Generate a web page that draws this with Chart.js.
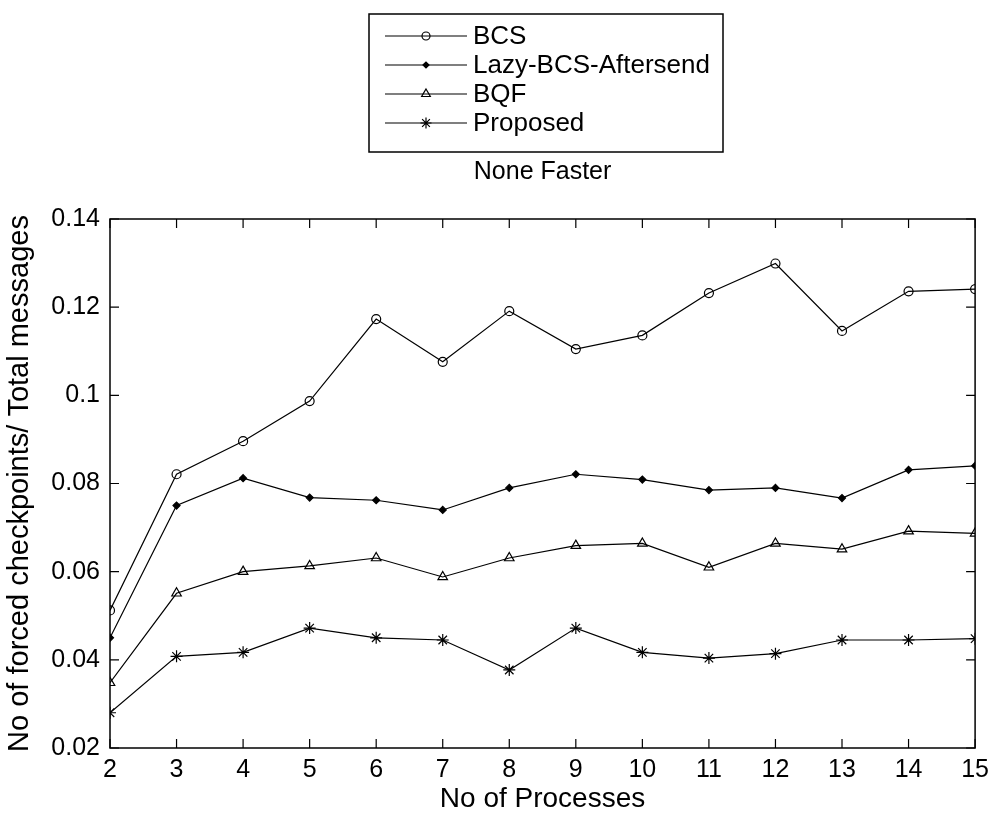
<!DOCTYPE html>
<html>
<head>
<meta charset="utf-8">
<script src="https://cdn.jsdelivr.net/npm/chart.js@4/dist/chart.umd.min.js"></script>
<style>
  body { margin: 0; background: #fff; }
  #wrap { width: 996px; height: 816px; }
</style>
</head>
<body>
<div id="wrap"><canvas id="cv" width="996" height="816"></canvas></div>
<script>
const processes = [2, 3, 4, 5, 6, 7, 8, 9, 10, 11, 12, 13, 14, 15];
const bcs      = [0.0512, 0.0821, 0.0896, 0.0987, 0.1173, 0.1076, 0.1191, 0.1105, 0.1136, 0.1232, 0.1299, 0.1146, 0.1236, 0.1241];
const lazyBcs  = [0.0450, 0.0750, 0.0812, 0.0768, 0.0762, 0.0740, 0.0790, 0.0821, 0.0809, 0.0785, 0.0790, 0.0767, 0.0831, 0.0840];
const bqf      = [0.0348, 0.0551, 0.0600, 0.0613, 0.0631, 0.0588, 0.0631, 0.0659, 0.0664, 0.0610, 0.0664, 0.0651, 0.0692, 0.0687];
const proposed = [0.0280, 0.0408, 0.0417, 0.0472, 0.0450, 0.0445, 0.0377, 0.0472, 0.0417, 0.0404, 0.0414, 0.0445, 0.0445, 0.0448];

const seriesNames = ["BCS", "Lazy-BCS-Aftersend", "BQF", "Proposed"];
const titleText = "None Faster";
const xTitle = "No of Processes";
const yTitle = "No of forced checkpoints/ Total messages";

const FONT = "'Liberation Sans', Arial, sans-serif";

function pts(vals) {
  return vals.map((v, i) => ({ x: processes[i], y: v }));
}

function series(label, vals, style, radius, fill) {
  return {
    label: label,
    data: pts(vals),
    borderColor: "#000",
    borderWidth: 1.2,
    pointStyle: style,
    pointRadius: radius,
    pointBorderWidth: 1.2,
    pointBorderColor: "#000",
    pointBackgroundColor: fill,
    tension: 0
  };
}

// frame + inward ticks + legend box + title, drawn like the matlab figure
const matlabFrame = {
  id: "matlabFrame",
  afterDraw(chart) {
    const ctx = chart.ctx;
    const a = chart.chartArea;
    const xs = chart.scales.x, ys = chart.scales.y;
    const tl = 9;
    ctx.save();
    ctx.strokeStyle = "#000";
    ctx.lineWidth = 1.5;
    ctx.strokeRect(a.left, a.top, a.right - a.left, a.bottom - a.top);
    ctx.lineWidth = 1.2;
    ctx.beginPath();
    xs.ticks.forEach(t => {
      const px = xs.getPixelForValue(t.value);
      ctx.moveTo(px, a.bottom); ctx.lineTo(px, a.bottom - tl);
      ctx.moveTo(px, a.top); ctx.lineTo(px, a.top + tl);
    });
    ys.ticks.forEach(t => {
      const py = ys.getPixelForValue(t.value);
      ctx.moveTo(a.left, py); ctx.lineTo(a.left + tl, py);
      ctx.moveTo(a.right, py); ctx.lineTo(a.right - tl, py);
    });
    ctx.stroke();

    // title
    ctx.fillStyle = "#000";
    ctx.font = "25px " + FONT;
    ctx.textAlign = "center";
    ctx.textBaseline = "middle";
    ctx.fillText(titleText, (a.left + a.right) / 2, 172);

    // legend
    const bx = 369, by = 14, bw = 354, bh = 138;
    ctx.fillStyle = "#fff";
    ctx.fillRect(bx, by, bw, bh);
    ctx.lineWidth = 1.5;
    ctx.strokeRect(bx, by, bw, bh);
    ctx.textAlign = "left";
    ctx.font = "26px " + FONT;
    const rowY = [36, 65, 94, 123];
    chart.data.datasets.forEach((ds, i) => {
      const y = rowY[i];
      ctx.strokeStyle = "#000";
      ctx.lineWidth = 1.2;
      ctx.beginPath();
      ctx.moveTo(385, y); ctx.lineTo(467, y);
      ctx.stroke();
      ctx.fillStyle = ds.pointBackgroundColor;
      Chart.helpers.drawPoint(ctx, {
        pointStyle: ds.pointStyle,
        radius: ds.pointRadius - 0.5,
        borderWidth: ds.pointBorderWidth,
        rotation: 0
      }, 426, y);
      ctx.fillStyle = "#000";
      ctx.fillText(ds.label, 473, y + 1);
    });
    ctx.restore();
  }
};

new Chart(document.getElementById("cv"), {
  type: "line",
  data: {
    datasets: [
      series(seriesNames[0], bcs, "circle", 4.5, "rgba(0,0,0,0)"),
      series(seriesNames[1], lazyBcs, "rectRot", 3.5, "#000"),
      series(seriesNames[2], bqf, "triangle", 5.5, "rgba(0,0,0,0)"),
      series(seriesNames[3], proposed, "star", 6, "rgba(0,0,0,0)")
    ]
  },
  options: {
    responsive: false,
    animation: false,
    layout: { padding: { top: 219, left: 0, right: 15, bottom: 0 } },
    plugins: {
      legend: { display: false },
      tooltip: { enabled: false },
      title: { display: false }
    },
    scales: {
      x: {
        type: "linear",
        min: 2,
        max: 15,
        afterFit(s) { s.height = 68; },
        grid: { display: false, drawTicks: false },
        border: { display: false },
        ticks: {
          stepSize: 1,
          color: "#000",
          padding: 7,
          font: { family: FONT, size: 25 }
        },
        title: {
          display: true,
          text: xTitle,
          color: "#000",
          padding: { top: 0, bottom: 0 },
          font: { family: FONT, size: 28 }
        }
      },
      y: {
        min: 0.02,
        max: 0.14,
        afterFit(s) { s.width = 110; },
        grid: { display: false, drawTicks: false },
        border: { display: false },
        ticks: {
          stepSize: 0.02,
          color: "#000",
          padding: 10,
          font: { family: FONT, size: 25 },
          callback: v => String(parseFloat(v.toFixed(2)))
        },
        title: {
          display: true,
          text: yTitle,
          color: "#000",
          padding: { top: 3, bottom: 0 },
          font: { family: FONT, size: 29 }
        }
      }
    }
  },
  plugins: [matlabFrame]
});
</script>
</body>
</html>
